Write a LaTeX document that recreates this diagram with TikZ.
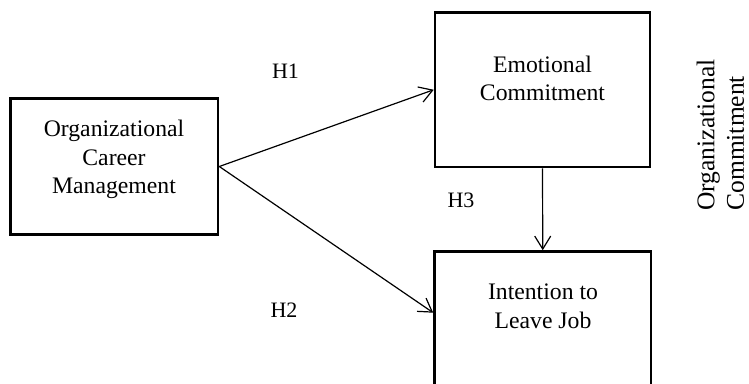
\documentclass[tikz,border=0pt]{standalone}
\usepackage{fontspec}
\setmainfont{Liberation Serif}
\usetikzlibrary{arrows.meta}
\begin{document}
\begin{tikzpicture}[x=1pt,y=-1pt,
  boxnode/.style={draw=black,line width=2.6pt,inner sep=0pt},
  txt/.style={inner sep=0pt,align=center,font=\fontsize{23.7pt}{28.5pt}\selectfont},
  hlab/.style={inner sep=0pt,font=\fontsize{22pt}{26pt}\selectfont},
  conn/.style={line width=1.2pt,-{Straight Barb[length=13pt,width=16pt,line width=1.2pt]}}
]
\useasboundingbox (0,0) rectangle (749,383);
% boxes
\node[boxnode,minimum width=207.5pt,minimum height=136pt] (ocm) at (114.25,166.5) {};
\node[boxnode,minimum width=215pt,minimum height=154.5pt] (ec) at (542.5,89.75) {};
\node[boxnode,minimum width=216.5pt,minimum height=168.5pt] (itl) at (542.75,335.75) {};
% texts
\node[txt] (ocmT) at (114,159.4) {Organizational\\Career\\Management};
\node[txt] (ecT) at (542.5,78.6) {Emotional\\Commitment};
\node[txt] (itlT) at (543,306.5) {Intention to\\Leave Job};
\node[inner sep=0pt,align=left,rotate=90,font=\fontsize{25.5pt}{29.5pt}\selectfont] (oc) at (720.5,135) {Organizational\\Commitment};
% labels
\node[hlab] (h1) at (285.5,71.5) {H1};
\node[hlab] (h2) at (284,310) {H2};
\node[hlab] (h3) at (461,200.5) {H3};
% connectors
\draw[conn] (ocm.east) -- (ec.west);
\draw[conn] (ocm.east) -- ([yshift=-62.5pt]itl.north west);
\draw[conn] (ec.south) -- (itl.north);
\end{tikzpicture}
\end{document}
